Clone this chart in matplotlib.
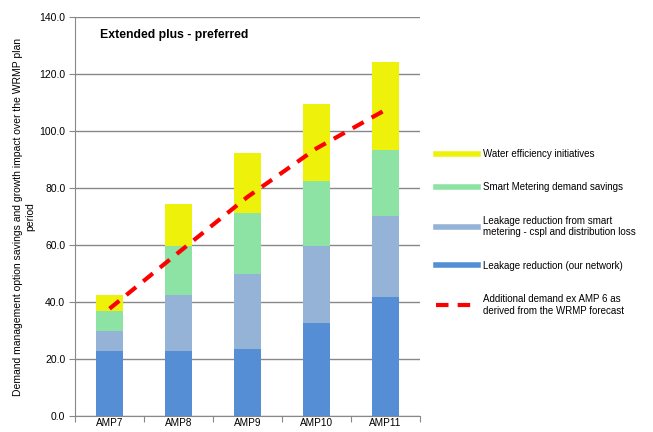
import numpy as np
import matplotlib
matplotlib.use("Agg")
import matplotlib.pyplot as plt
from matplotlib.lines import Line2D

plt.rcParams["font.family"] = ["Liberation Sans", "DejaVu Sans"]

periods = ["AMP7", "AMP8", "AMP9", "AMP10", "AMP11"]
leak_network = [23.0, 23.0, 23.5, 32.8, 42.0]
leak_smart = [7.0, 19.6, 26.4, 26.9, 28.2]
smart_metering = [7.0, 17.1, 21.6, 22.9, 23.4]
water_eff = [5.6, 14.7, 20.9, 27.0, 30.8]
additional_demand = [37.8, 57.5, 77.0, 94.0, 107.5]

series = [
    ("Leakage reduction (our network)", leak_network, "#558ed5"),
    ("Leakage reduction from smart\nmetering - cspl and distribution loss", leak_smart, "#95b3d7"),
    ("Smart Metering demand savings", smart_metering, "#8ce3a3"),
    ("Water efficiency initiatives", water_eff, "#eef20a"),
]

fig = plt.figure(figsize=(6.53, 4.32), dpi=100)
ax = fig.add_axes([0.115, 0.036, 0.528, 0.924])

x = np.arange(len(periods))
bottom = np.zeros(len(periods))
for label, vals, col in series:
    ax.bar(x, vals, 0.39, bottom=bottom, color=col, zorder=2)
    bottom += np.array(vals)

ax.plot(x, additional_demand, color="#ff0000", lw=3, dashes=(3, 2.2), zorder=3)

ax.set_ylim(0, 140)
ax.set_xlim(-0.5, len(periods) - 0.5)
ax.set_yticks(np.arange(0, 141, 20))
ax.set_yticklabels([f"{v:.1f}" for v in np.arange(0, 141, 20)], fontsize=7.5)
ax.yaxis.grid(True, color="#888888", lw=1, zorder=0)
ax.set_axisbelow(True)

# category boundaries as ticks, names centred under bars
ax.set_xticks(np.arange(-0.5, len(periods)), minor=False)
ax.set_xticklabels([])
ax.set_xticks(x, minor=True)
ax.set_xticklabels(periods, minor=True, fontsize=7.2)
ax.tick_params(axis="x", which="minor", length=0, pad=1)
ax.tick_params(axis="x", which="major", length=4, color="#888888")
ax.tick_params(axis="y", length=4, color="#888888", pad=3)

for s in ["top", "right"]:
    ax.spines[s].set_visible(False)
for s in ["left", "bottom"]:
    ax.spines[s].set_color("#888888")

ax.set_ylabel("Demand management option savings and growth impact over the WRMP plan\nperiod",
              fontsize=7.5, labelpad=3)
ax.text(0.072, 0.97, "Extended plus - preferred", transform=ax.transAxes,
        fontsize=8.8, fontweight="bold", va="top")

handles = [Line2D([], [], color=c, lw=4) for _, _, c in series[::-1]]
labels = [l for l, _, _ in series[::-1]]
handles.append(Line2D([], [], color="#ff0000", lw=3, dashes=(3, 2.2)))
labels.append("Additional demand ex AMP 6 as\nderived from the WRMP forecast")
fig.legend(handles, labels, loc="upper left", bbox_to_anchor=(0.655, 0.675),
           frameon=False, fontsize=7, handlelength=4.3, labelspacing=2.4,
           handletextpad=0.5)

fig.savefig("out.png", dpi=100)
